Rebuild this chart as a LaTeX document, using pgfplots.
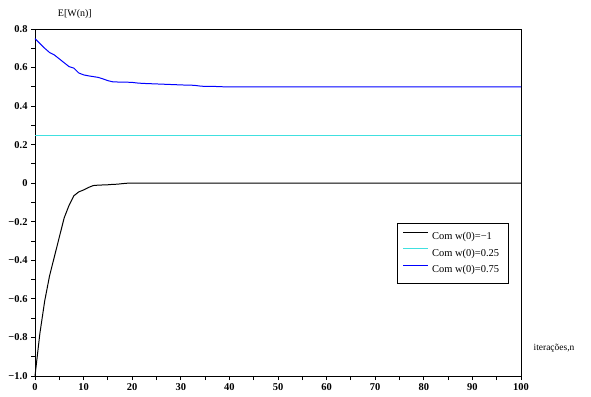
\documentclass[border=0pt]{standalone}
\usepackage{fontspec}
\setmainfont{Liberation Serif}
\usepackage{pgfplots}
\pgfplotsset{compat=1.18}
\definecolor{sciblue}{RGB}{0,0,255}
\definecolor{scicyan}{RGB}{64,224,224}
\begin{document}
\begin{tikzpicture}
\path[use as bounding box] (-35bp,-21bp) rectangle (556bp,376bp);
\begin{axis}[
  at={(0,0)}, anchor=south west,
  scale only axis, width=486bp, height=347bp,
  xmin=0, xmax=100, ymin=-1, ymax=0.8,
  axis line style={line width=1pt},
  tick pos=left, tick align=outside,
  major tick length=4bp, minor tick length=4bp,
  tick style={line width=0.9pt, black},
  xtick={0,10,...,100}, minor xtick={5,15,...,95},
  ytick={-1,-0.8,-0.6,-0.4,-0.2,0,0.2,0.4,0.6,0.8},
  yticklabels={−1.0,−0.8,−0.6,−0.4,−0.2,0,0.2,0.4,0.6,0.8},
  minor ytick={-0.9,-0.7,-0.5,-0.3,-0.1,0.1,0.3,0.5,0.7},
  /pgf/number format/assume math mode=true,
  ticklabel style={font=\fontsize{10.5}{12}\selectfont\bfseries},
  legend style={at={(rel axis cs:0.745,0.441)}, anchor=north west,
    font=\fontsize{10.5}{12}\selectfont,
    inner xsep=5.5pt, inner ysep=8pt, row sep=6.5pt,
    nodes={inner xsep=3.5pt, inner ysep=1pt, text depth=1pt},
    legend cell align=left},
  legend image code/.code={\draw[#1, line width=1pt] (0bp,4bp) -- (25bp,4bp);},
  clip=false,
]
\addplot[black, line width=1pt] coordinates {
(0,-1.0) (1,-0.78) (2,-0.61) (3,-0.48) (4,-0.38) (5,-0.28) (6,-0.18) (7,-0.115)
(8,-0.065) (9,-0.045) (10,-0.035) (11,-0.022) (12,-0.012) (13,-0.010) (14,-0.009)
(15,-0.008) (16,-0.006) (17,-0.005) (18,-0.002) (19,0) (100,0)};
\addlegendentry{Com w(0)=−1}
\addplot[scicyan, line width=1pt] coordinates {(0,0.25) (100,0.25)};
\addlegendentry{Com w(0)=0.25}
\addplot[sciblue, line width=1pt] coordinates {
(0,0.750) (1,0.725) (2,0.700) (3,0.678) (4,0.665) (5,0.645) (6,0.625) (7,0.605)
(8,0.597) (9,0.572) (10,0.562) (11,0.557) (12,0.553) (13,0.549) (14,0.541)
(15,0.532) (16,0.526) (17,0.525) (18,0.525) (19,0.524) (20,0.523) (21,0.520)
(22,0.518) (23,0.517) (24,0.516) (25,0.515) (26,0.514) (27,0.513) (28,0.512)
(29,0.511) (30,0.510) (31,0.509) (32,0.509) (33,0.507) (34,0.504) (35,0.502)
(36,0.502) (37,0.502) (38,0.501) (39,0.500) (40,0.500) (100,0.500)};
\addlegendentry{Com w(0)=0.75}
\node[font=\fontsize{10}{12}\selectfont] at ([yshift=15bp]rel axis cs:0.082,1) {E[W(n)]};
\node[font=\fontsize{9.5}{12}\selectfont] at ([xshift=33bp]rel axis cs:1,0.08) {iterações,n};
\end{axis}
\end{tikzpicture}
\end{document}
